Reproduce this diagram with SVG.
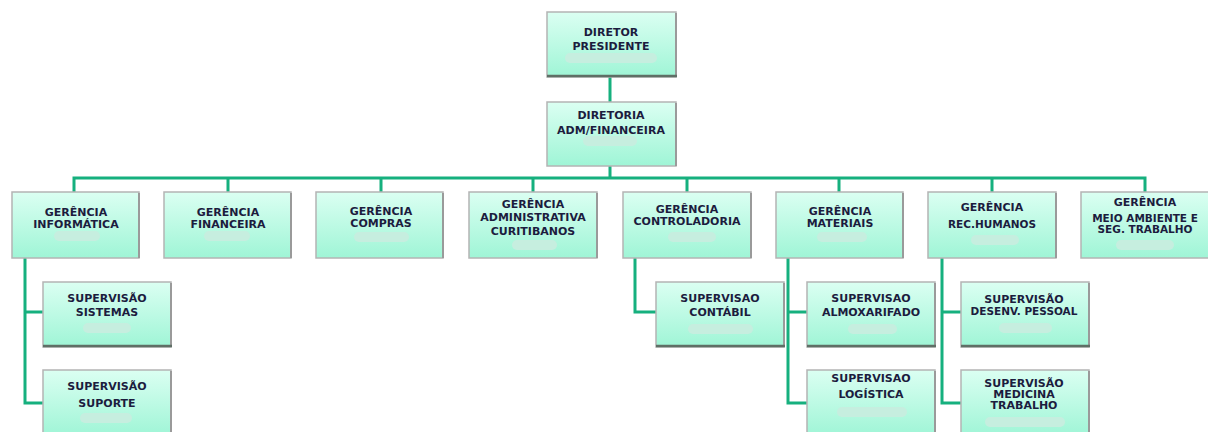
<svg xmlns="http://www.w3.org/2000/svg" width="1208" height="432" viewBox="0 0 1208 432">
<defs>
<linearGradient id="g" x1="0" y1="0" x2="0" y2="1">
<stop offset="0" stop-color="#dbfff2"/>
<stop offset="1" stop-color="#9ff5d6"/>
</linearGradient>
</defs>
<style>
.box{fill:url(#g);stroke:#b4b4b4;stroke-width:1.5}
.sh{stroke:#5f6f66;stroke-width:2.5}
.rs{stroke:#9a9a9a;stroke-width:2}
.pill{fill:#c6eedf}
.t{font-family:"DejaVu Sans",Verdana,sans-serif;font-weight:bold;font-size:11px;fill:#1c1c3e;text-anchor:middle}
.n{font-size:10.5px}
.c{fill:none;stroke:#16b07e;stroke-width:3}
</style>
<rect width="1208" height="432" fill="#fff"/>
<g id="connectors">
<path class="c" d="M610 77V102M610 166V178M74 192V178H1145V192M228 178V192M381 178V192M533 178V192M687 178V192M839 178V192M992 178V192"/>
<path class="c" d="M25 257V403H43M25 312H43"/>
<path class="c" d="M635 257V312H656"/>
<path class="c" d="M788 257V403H807M788 312H807"/>
<path class="c" d="M942 257V403H961M942 312H961"/>
</g>
<g id="diretor-presidente">
<rect class="box" x="547" y="12" width="129" height="65"/>
<line class="rs" x1="676" y1="13" x2="676" y2="76"/>
<line class="sh" x1="547" y1="76" x2="677" y2="76"/>
<text class="t" x="611" y="36">DIRETOR</text>
<text class="t" x="611" y="50">PRESIDENTE</text>
<rect class="pill" x="565" y="53" width="92" height="10" rx="5"/>
</g>
<g id="diretoria-adm">
<rect class="box" x="547" y="102" width="129" height="64"/>
<line class="rs" x1="676" y1="103" x2="676" y2="166"/>
<text class="t" x="611" y="119">DIRETORIA</text>
<text class="t" x="611" y="134">ADM/FINANCEIRA</text>
<rect class="pill" x="583" y="136" width="54" height="10" rx="5"/>
</g>
<g id="ger-informatica">
<rect class="box" x="12" y="192" width="127" height="66"/>
<line class="rs" x1="139" y1="193" x2="139" y2="258"/>
<text class="t" x="76" y="216">GERÊNCIA</text>
<text class="t" x="76" y="228">INFORMÁTICA</text>
<rect class="pill" x="54" y="231" width="46" height="10" rx="5"/>
</g>
<g id="ger-financeira">
<rect class="box" x="164" y="192" width="127" height="66"/>
<line class="rs" x1="291" y1="193" x2="291" y2="258"/>
<text class="t" x="228" y="216">GERÊNCIA</text>
<text class="t" x="228" y="228">FINANCEIRA</text>
<rect class="pill" x="204" y="231" width="46" height="10" rx="5"/>
</g>
<g id="ger-compras">
<rect class="box" x="316" y="192" width="127" height="66"/>
<line class="rs" x1="443" y1="193" x2="443" y2="258"/>
<text class="t" x="381" y="215">GERÊNCIA</text>
<text class="t" x="381" y="227">COMPRAS</text>
<rect class="pill" x="354" y="232" width="55" height="10" rx="5"/>
</g>
<g id="ger-administrativa">
<rect class="box" x="469" y="192" width="128" height="66"/>
<line class="rs" x1="597" y1="193" x2="597" y2="258"/>
<text class="t" x="533" y="208">GERÊNCIA</text>
<text class="t" x="533" y="221">ADMINISTRATIVA</text>
<text class="t" x="533" y="235">CURITIBANOS</text>
<rect class="pill" x="512" y="240" width="45" height="10" rx="5"/>
</g>
<g id="ger-controladoria">
<rect class="box" x="623" y="192" width="128" height="66"/>
<line class="rs" x1="751" y1="193" x2="751" y2="258"/>
<text class="t" x="687" y="213">GERÊNCIA</text>
<text class="t" x="687" y="225">CONTROLADORIA</text>
<rect class="pill" x="668" y="232" width="48" height="10" rx="5"/>
</g>
<g id="ger-materiais">
<rect class="box" x="776" y="192" width="127" height="66"/>
<line class="rs" x1="903" y1="193" x2="903" y2="258"/>
<text class="t" x="840" y="215">GERÊNCIA</text>
<text class="t" x="840" y="227">MATERIAIS</text>
<rect class="pill" x="817" y="232" width="50" height="10" rx="5"/>
</g>
<g id="ger-rh">
<rect class="box" x="928" y="192" width="128" height="66"/>
<line class="rs" x1="1056" y1="193" x2="1056" y2="258"/>
<text class="t" x="992" y="211">GERÊNCIA</text>
<text class="t n" x="992" y="228">REC.HUMANOS</text>
<rect class="pill" x="971" y="235" width="48" height="10" rx="5"/>
</g>
<g id="ger-meio-ambiente">
<rect class="box" x="1081" y="192" width="128" height="66"/>
<text class="t" x="1145" y="206">GERÊNCIA</text>
<text class="t n" x="1145" y="222">MEIO AMBIENTE E</text>
<text class="t n" x="1145" y="233">SEG. TRABALHO</text>
<rect class="pill" x="1116" y="240" width="58" height="10" rx="5"/>
</g>
<g id="sup-sistemas">
<rect class="box" x="43" y="282" width="128" height="65"/>
<line class="rs" x1="171" y1="283" x2="171" y2="346"/>
<line class="sh" x1="43" y1="346" x2="172" y2="346"/>
<text class="t" x="107" y="302">SUPERVISÃO</text>
<text class="t" x="107" y="316">SISTEMAS</text>
<rect class="pill" x="83" y="323" width="48" height="10" rx="5"/>
</g>
<g id="sup-suporte">
<rect class="box" x="43" y="370" width="128" height="66"/>
<line class="rs" x1="171" y1="371" x2="171" y2="436"/>
<text class="t" x="107" y="390">SUPERVISÃO</text>
<text class="t" x="107" y="407">SUPORTE</text>
<rect class="pill" x="80" y="413" width="52" height="10" rx="5"/>
</g>
<g id="sup-contabil">
<rect class="box" x="656" y="282" width="128" height="65"/>
<line class="rs" x1="784" y1="283" x2="784" y2="346"/>
<line class="sh" x1="656" y1="346" x2="785" y2="346"/>
<text class="t" x="720" y="302">SUPERVISAO</text>
<text class="t" x="720" y="316">CONTÁBIL</text>
<rect class="pill" x="688" y="324" width="65" height="10" rx="5"/>
</g>
<g id="sup-almoxarifado">
<rect class="box" x="807" y="282" width="128" height="65"/>
<line class="rs" x1="935" y1="283" x2="935" y2="346"/>
<line class="sh" x1="807" y1="346" x2="936" y2="346"/>
<text class="t" x="871" y="302">SUPERVISAO</text>
<text class="t" x="871" y="316">ALMOXARIFADO</text>
<rect class="pill" x="848" y="324" width="49" height="10" rx="5"/>
</g>
<g id="sup-logistica">
<rect class="box" x="807" y="370" width="128" height="66"/>
<line class="rs" x1="935" y1="371" x2="935" y2="436"/>
<text class="t" x="871" y="382">SUPERVISAO</text>
<text class="t" x="871" y="398">LOGÍSTICA</text>
<rect class="pill" x="837" y="407" width="70" height="10" rx="5"/>
</g>
<g id="sup-desenv-pessoal">
<rect class="box" x="961" y="282" width="128" height="65"/>
<line class="rs" x1="1089" y1="283" x2="1089" y2="346"/>
<line class="sh" x1="961" y1="346" x2="1090" y2="346"/>
<text class="t" x="1024" y="303">SUPERVISÃO</text>
<text class="t n" x="1024" y="315">DESENV. PESSOAL</text>
<rect class="pill" x="999" y="323" width="53" height="10" rx="5"/>
</g>
<g id="sup-medicina">
<rect class="box" x="961" y="370" width="128" height="66"/>
<line class="rs" x1="1089" y1="371" x2="1089" y2="436"/>
<text class="t" x="1024" y="387">SUPERVISÃO</text>
<text class="t" x="1024" y="398">MEDICINA</text>
<text class="t" x="1024" y="409">TRABALHO</text>
<rect class="pill" x="985" y="417" width="80" height="10" rx="5"/>
</g>
</svg>
